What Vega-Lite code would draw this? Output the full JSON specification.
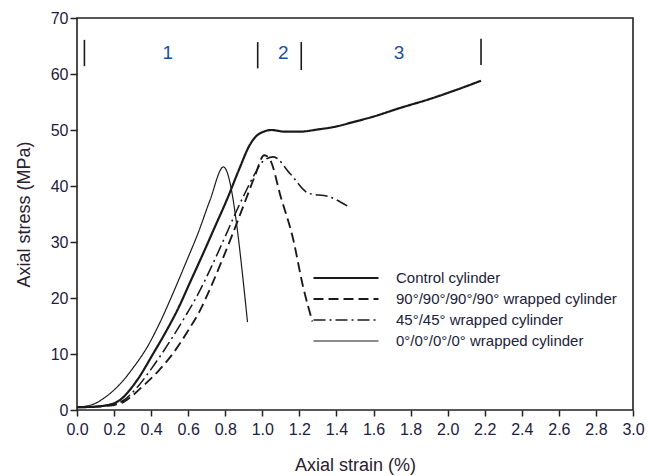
{
  "$schema": "https://vega.github.io/schema/vega-lite/v6.json",
  "width": 556,
  "height": 392,
  "autosize": "none",
  "padding": {"left": 77, "top": 18, "right": 15, "bottom": 66},
  "background": "white",
  "config": {
    "view": {"stroke": "#222", "strokeWidth": 1.6},
    "font": "Liberation Sans",
    "axis": {
      "domain": false, "grid": false, "tickColor": "#222", "tickWidth": 1.5,
      "labelFont": "Liberation Sans", "labelColor": "#1e2040", "labelFontSize": 16,
      "titleFont": "Liberation Sans", "titleFontSize": 18, "titleFontWeight": "normal", "titleColor": "#2a2030"
    },
    "legend": {
      "orient": "none", "legendX": 235, "legendY": 252, "padding": 0,
      "symbolType": "stroke", "symbolSize": 4225, "clipHeight": 16, "rowPadding": 5,
      "labelOffset": 16, "labelFontSize": 15, "labelFont": "Liberation Sans",
      "labelColor": "#22223a", "labelLimit": 400, "symbolStrokeColor": "#1a1a1a"
    }
  },
  "datasets": {
    "curves": [
      {"specimen": "Control cylinder", "strain": 0.0, "stress": 0.5},
      {"specimen": "Control cylinder", "strain": 0.1, "stress": 0.6},
      {"specimen": "Control cylinder", "strain": 0.15, "stress": 0.8},
      {"specimen": "Control cylinder", "strain": 0.2, "stress": 1.2},
      {"specimen": "Control cylinder", "strain": 0.24, "stress": 2.0},
      {"specimen": "Control cylinder", "strain": 0.28, "stress": 3.4},
      {"specimen": "Control cylinder", "strain": 0.33, "stress": 5.6},
      {"specimen": "Control cylinder", "strain": 0.41, "stress": 10.0},
      {"specimen": "Control cylinder", "strain": 0.48, "stress": 14.0},
      {"specimen": "Control cylinder", "strain": 0.547, "stress": 18.2},
      {"specimen": "Control cylinder", "strain": 0.61, "stress": 22.8},
      {"specimen": "Control cylinder", "strain": 0.68, "stress": 27.9},
      {"specimen": "Control cylinder", "strain": 0.74, "stress": 32.4},
      {"specimen": "Control cylinder", "strain": 0.808, "stress": 37.5},
      {"specimen": "Control cylinder", "strain": 0.88, "stress": 43.4},
      {"specimen": "Control cylinder", "strain": 0.93, "stress": 47.2},
      {"specimen": "Control cylinder", "strain": 0.97, "stress": 49.0},
      {"specimen": "Control cylinder", "strain": 1.0, "stress": 49.6},
      {"specimen": "Control cylinder", "strain": 1.05, "stress": 50.0},
      {"specimen": "Control cylinder", "strain": 1.12, "stress": 49.7},
      {"specimen": "Control cylinder", "strain": 1.2, "stress": 49.7},
      {"specimen": "Control cylinder", "strain": 1.3, "stress": 50.1},
      {"specimen": "Control cylinder", "strain": 1.38, "stress": 50.5},
      {"specimen": "Control cylinder", "strain": 1.5, "stress": 51.5},
      {"specimen": "Control cylinder", "strain": 1.6, "stress": 52.4},
      {"specimen": "Control cylinder", "strain": 1.74, "stress": 53.9},
      {"specimen": "Control cylinder", "strain": 1.9, "stress": 55.5},
      {"specimen": "Control cylinder", "strain": 2.05, "stress": 57.2},
      {"specimen": "Control cylinder", "strain": 2.18, "stress": 58.8},

      {"specimen": "90°/90°/90°/90° wrapped cylinder", "strain": 0.0, "stress": 0.5},
      {"specimen": "90°/90°/90°/90° wrapped cylinder", "strain": 0.1, "stress": 0.6},
      {"specimen": "90°/90°/90°/90° wrapped cylinder", "strain": 0.2, "stress": 0.9},
      {"specimen": "90°/90°/90°/90° wrapped cylinder", "strain": 0.25, "stress": 1.4},
      {"specimen": "90°/90°/90°/90° wrapped cylinder", "strain": 0.3, "stress": 2.6},
      {"specimen": "90°/90°/90°/90° wrapped cylinder", "strain": 0.36, "stress": 4.4},
      {"specimen": "90°/90°/90°/90° wrapped cylinder", "strain": 0.44, "stress": 7.0},
      {"specimen": "90°/90°/90°/90° wrapped cylinder", "strain": 0.52, "stress": 10.2},
      {"specimen": "90°/90°/90°/90° wrapped cylinder", "strain": 0.6, "stress": 14.2},
      {"specimen": "90°/90°/90°/90° wrapped cylinder", "strain": 0.664, "stress": 17.8},
      {"specimen": "90°/90°/90°/90° wrapped cylinder", "strain": 0.72, "stress": 21.8},
      {"specimen": "90°/90°/90°/90° wrapped cylinder", "strain": 0.78, "stress": 26.5},
      {"specimen": "90°/90°/90°/90° wrapped cylinder", "strain": 0.85, "stress": 32.3},
      {"specimen": "90°/90°/90°/90° wrapped cylinder", "strain": 0.91, "stress": 37.5},
      {"specimen": "90°/90°/90°/90° wrapped cylinder", "strain": 0.96, "stress": 41.8},
      {"specimen": "90°/90°/90°/90° wrapped cylinder", "strain": 1.01, "stress": 45.5},
      {"specimen": "90°/90°/90°/90° wrapped cylinder", "strain": 1.04, "stress": 44.8},
      {"specimen": "90°/90°/90°/90° wrapped cylinder", "strain": 1.1, "stress": 38.0},
      {"specimen": "90°/90°/90°/90° wrapped cylinder", "strain": 1.165, "stress": 30.7},
      {"specimen": "90°/90°/90°/90° wrapped cylinder", "strain": 1.22, "stress": 22.0},
      {"specimen": "90°/90°/90°/90° wrapped cylinder", "strain": 1.27, "stress": 15.8},

      {"specimen": "45°/45° wrapped cylinder", "strain": 0.0, "stress": 0.5},
      {"specimen": "45°/45° wrapped cylinder", "strain": 0.1, "stress": 0.6},
      {"specimen": "45°/45° wrapped cylinder", "strain": 0.2, "stress": 1.0},
      {"specimen": "45°/45° wrapped cylinder", "strain": 0.25, "stress": 1.7},
      {"specimen": "45°/45° wrapped cylinder", "strain": 0.31, "stress": 3.5},
      {"specimen": "45°/45° wrapped cylinder", "strain": 0.4, "stress": 7.3},
      {"specimen": "45°/45° wrapped cylinder", "strain": 0.5, "stress": 12.2},
      {"specimen": "45°/45° wrapped cylinder", "strain": 0.58, "stress": 16.5},
      {"specimen": "45°/45° wrapped cylinder", "strain": 0.65, "stress": 20.5},
      {"specimen": "45°/45° wrapped cylinder", "strain": 0.72, "stress": 25.2},
      {"specimen": "45°/45° wrapped cylinder", "strain": 0.8, "stress": 31.0},
      {"specimen": "45°/45° wrapped cylinder", "strain": 0.86, "stress": 35.5},
      {"specimen": "45°/45° wrapped cylinder", "strain": 0.9, "stress": 38.3},
      {"specimen": "45°/45° wrapped cylinder", "strain": 0.96, "stress": 42.2},
      {"specimen": "45°/45° wrapped cylinder", "strain": 1.0, "stress": 44.3},
      {"specimen": "45°/45° wrapped cylinder", "strain": 1.06, "stress": 45.2},
      {"specimen": "45°/45° wrapped cylinder", "strain": 1.15, "stress": 42.2},
      {"specimen": "45°/45° wrapped cylinder", "strain": 1.25, "stress": 38.7},
      {"specimen": "45°/45° wrapped cylinder", "strain": 1.36, "stress": 38.1},
      {"specimen": "45°/45° wrapped cylinder", "strain": 1.46, "stress": 36.4},

      {"specimen": "0°/0°/0°/0° wrapped cylinder", "strain": 0.0, "stress": 0.5},
      {"specimen": "0°/0°/0°/0° wrapped cylinder", "strain": 0.05, "stress": 0.7},
      {"specimen": "0°/0°/0°/0° wrapped cylinder", "strain": 0.1, "stress": 1.2},
      {"specimen": "0°/0°/0°/0° wrapped cylinder", "strain": 0.14, "stress": 2.0},
      {"specimen": "0°/0°/0°/0° wrapped cylinder", "strain": 0.18, "stress": 3.0},
      {"specimen": "0°/0°/0°/0° wrapped cylinder", "strain": 0.25, "stress": 5.3},
      {"specimen": "0°/0°/0°/0° wrapped cylinder", "strain": 0.3, "stress": 7.4},
      {"specimen": "0°/0°/0°/0° wrapped cylinder", "strain": 0.38, "stress": 11.3},
      {"specimen": "0°/0°/0°/0° wrapped cylinder", "strain": 0.45, "stress": 15.8},
      {"specimen": "0°/0°/0°/0° wrapped cylinder", "strain": 0.52, "stress": 21.0},
      {"specimen": "0°/0°/0°/0° wrapped cylinder", "strain": 0.6, "stress": 27.3},
      {"specimen": "0°/0°/0°/0° wrapped cylinder", "strain": 0.65, "stress": 31.3},
      {"specimen": "0°/0°/0°/0° wrapped cylinder", "strain": 0.718, "stress": 37.5},
      {"specimen": "0°/0°/0°/0° wrapped cylinder", "strain": 0.79, "stress": 43.4},
      {"specimen": "0°/0°/0°/0° wrapped cylinder", "strain": 0.92, "stress": 15.7}
    ],
    "stages": [
      {"strain": 0.04, "stress": 61.4, "stress2": 66.1},
      {"strain": 0.975, "stress": 61.0, "stress2": 65.7},
      {"strain": 1.21, "stress": 60.7, "stress2": 65.7},
      {"strain": 2.18, "stress": 61.6, "stress2": 66.3}
    ],
    "labels": [
      {"strain": 0.49, "stress": 63.8, "label": "1"},
      {"strain": 1.113, "stress": 63.8, "label": "2"},
      {"strain": 1.738, "stress": 63.8, "label": "3"}
    ]
  },
  "encoding": {
    "x": {
      "field": "strain", "type": "quantitative",
      "scale": {"domain": [0, 3], "nice": false},
      "axis": {
        "title": "Axial strain (%)",
        "values": [0, 0.2, 0.4, 0.6, 0.8, 1.0, 1.2, 1.4, 1.6, 1.8, 2.0, 2.2, 2.4, 2.6, 2.8, 3.0],
        "tickCount": 16,
        "format": ".1f", "tickSize": 6, "labelPadding": 5, "titlePadding": 19,
        "labelFlush": false, "labelOverlap": false
      }
    },
    "y": {
      "field": "stress", "type": "quantitative",
      "scale": {"domain": [0, 70], "nice": false},
      "axis": {
        "title": "Axial stress (MPa)", "values": [0, 10, 20, 30, 40, 50, 60, 70],
        "tickSize": 7, "labelPadding": 2, "titlePadding": 17, "labelFlush": false
      }
    }
  },
  "layer": [
    {
      "data": {"name": "curves"},
      "mark": {"type": "line", "interpolate": "monotone", "color": "#1a1a1a"},
      "encoding": {
        "strokeDash": {
          "field": "specimen", "type": "nominal",
          "scale": {
            "domain": ["Control cylinder", "90°/90°/90°/90° wrapped cylinder", "45°/45° wrapped cylinder", "0°/0°/0°/0° wrapped cylinder"],
            "range": [[1, 0], [10, 5], [12, 4, 2, 4], [1, 0]]
          },
          "legend": {"title": null}
        },
        "strokeWidth": {
          "field": "specimen", "type": "nominal",
          "scale": {
            "domain": ["Control cylinder", "90°/90°/90°/90° wrapped cylinder", "45°/45° wrapped cylinder", "0°/0°/0°/0° wrapped cylinder"],
            "range": [2.2, 1.2, 1.2, 1.3]
          },
          "legend": {"title": null}
        }
      }
    },
    {
      "data": {"name": "stages"},
      "mark": {"type": "rule", "color": "#1a1a1a", "strokeWidth": 1.6},
      "encoding": {
        "y2": {"field": "stress2"}
      }
    },
    {
      "data": {"name": "labels"},
      "mark": {"type": "text", "font": "Liberation Sans", "fontSize": 19, "color": "#1d4f9a", "baseline": "middle", "align": "center"},
      "encoding": {
        "text": {"field": "label"}
      }
    }
  ]
}
